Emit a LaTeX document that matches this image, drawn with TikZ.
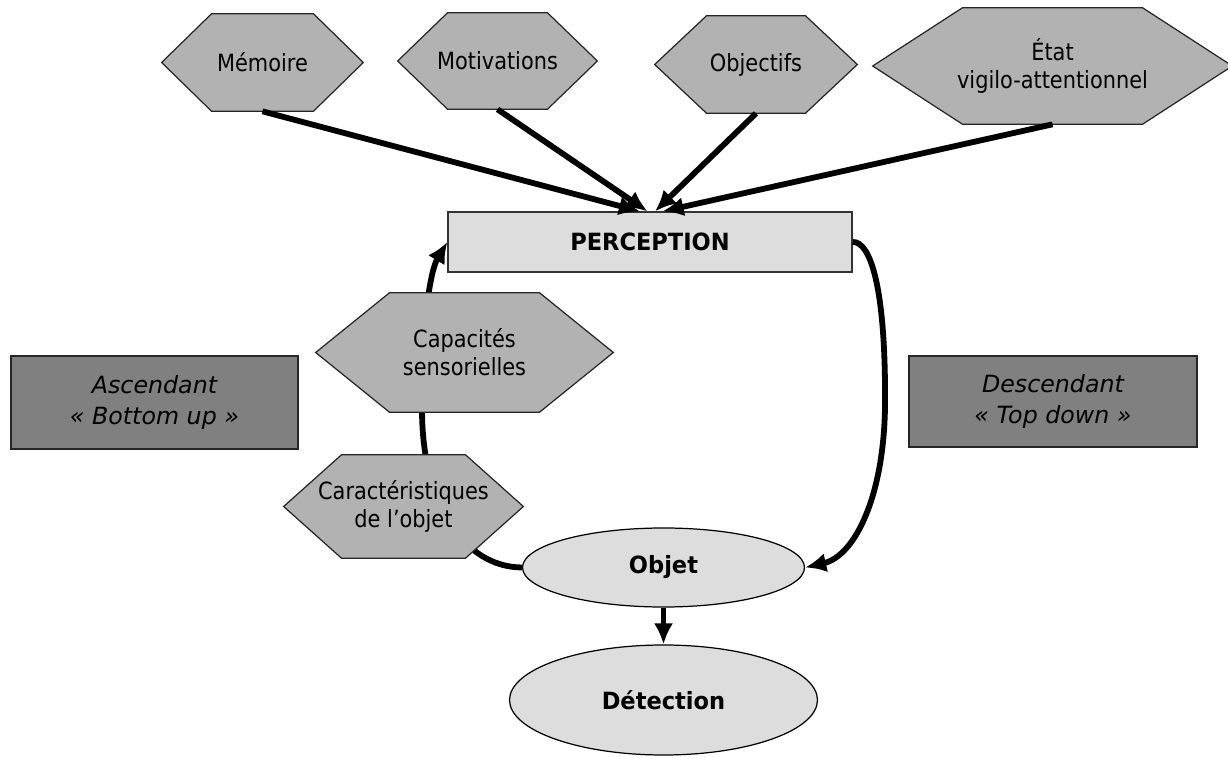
\documentclass[tikz,border=0pt]{standalone}
\usepackage{fontspec}
\setmainfont{DejaVu Sans}[FakeStretch=0.88]
\newfontfamily\widefont{DejaVu Sans}
\newfontfamily\boldfont{DejaVu Sans}[FakeStretch=0.95]
\usepackage{tikz}
\usetikzlibrary{arrows.meta,backgrounds,shapes.geometric,calc}

\definecolor{hexfillc}{HTML}{B2B2B2}
\definecolor{lightfillc}{HTML}{DDDDDD}
\definecolor{boxfillc}{HTML}{808080}
\newcommand\diagfont{\fontsize{13.5}{16}\selectfont}
\newcommand\sidefont{\fontsize{13.5}{18}\selectfont}

\begin{document}
\begin{tikzpicture}[
    every node/.style={font=\diagfont, text=black, align=center},
    hexnode/.style={inner sep=0pt},
    hexline/.style={fill=hexfillc, draw=black!85, line width=0.7pt, line join=miter},
    lightbox/.style={draw=black!80, fill=lightfillc, line width=0.7pt, inner sep=0pt, font=\boldfont\bfseries\diagfont},
    oval/.style={ellipse, draw=black, fill=lightfillc, line width=0.7pt, inner sep=0pt, font=\boldfont\bfseries\diagfont},
    sidebox/.style={draw=black!85, fill=boxfillc, line width=0.8pt, inner sep=0pt, font=\widefont\itshape\sidefont},
    flow/.style={line width=3.3pt, -{Latex[length=12pt,width=11pt]}}
  ]
    \useasboundingbox (0,0) rectangle (24.56,15.12);

    % influences en haut
    \node[hexnode, minimum width=4.02cm, minimum height=1.94cm] (memoire) at (5.25,13.87) {Mémoire};
    \node[hexnode, minimum width=3.98cm, minimum height=1.92cm] (motiv) at (9.95,13.90) {Motivations};
    \node[hexnode, minimum width=4.04cm, minimum height=1.94cm] (objectifs) at (15.12,13.83) {Objectifs};
    \node[hexnode, minimum width=7.18cm, minimum height=2.32cm] (etat) at (21.05,13.80) {État\\vigilo-attentionnel};

    \node[lightbox, minimum width=8.08cm, minimum height=1.2cm] (perc) at (13.0,10.28) {PERCEPTION};

    % voie ascendante
    \node[hexnode, minimum width=5.94cm, minimum height=2.38cm] (capa) at (9.29,8.07) {Capacités\\sensorielles};
    \node[hexnode, minimum width=4.78cm, minimum height=2.06cm] (carac) at (8.07,4.99) {Caractéristiques\\de l’objet};

    \node[oval, minimum width=5.64cm, minimum height=1.58cm] (objet) at (13.27,3.77) {Objet};
    \node[oval, minimum width=6.16cm, minimum height=2.2cm] (detect) at (13.27,1.12) {Détection};

    \node[sidebox, minimum width=5.74cm, minimum height=1.86cm] (asc) at (3.09,7.07) {Ascendant\\«~Bottom up~»};
    \node[sidebox, minimum width=5.76cm, minimum height=1.82cm] (desc) at (21.06,7.09) {Descendant\\«~Top down~»};

    \coordinate (bend) at (8.44,6.9);
    \coordinate (swing) at (17.7,7.0);

    \begin{scope}[on background layer]
        \draw[flow] (objet.west) .. controls (9.3,3.78) and (8.45,5.0) .. (bend)
                    .. controls (8.43,8.6) and (8.6,9.7) .. (perc.west);
        \foreach \n/\d in {memoire/1.0, motiv/1.0, objectifs/1.04, etat/1.8, capa/1.48, carac/1.16}
            \filldraw[hexline] (\n.west) -- ([xshift=\d cm]\n.north west) -- ([xshift=-\d cm]\n.north east)
                -- (\n.east) -- ([xshift=-\d cm]\n.south east) -- ([xshift=\d cm]\n.south west) -- cycle;
    \end{scope}

    \foreach \n/\s in {memoire/-0.2, motiv/-0.05, objectifs/0.1, etat/0.25}
        \draw[flow] (\n.south) -- ([xshift=\s cm]perc.north);

    % voie descendante
    \draw[flow] (perc.east) .. controls (17.4,10.3) and (17.72,9.4) .. (swing)
                .. controls (17.68,5.2) and (17.1,4.0) .. (objet.east);
    \draw[flow] (objet.south) -- (detect.north);
\end{tikzpicture}
\end{document}
